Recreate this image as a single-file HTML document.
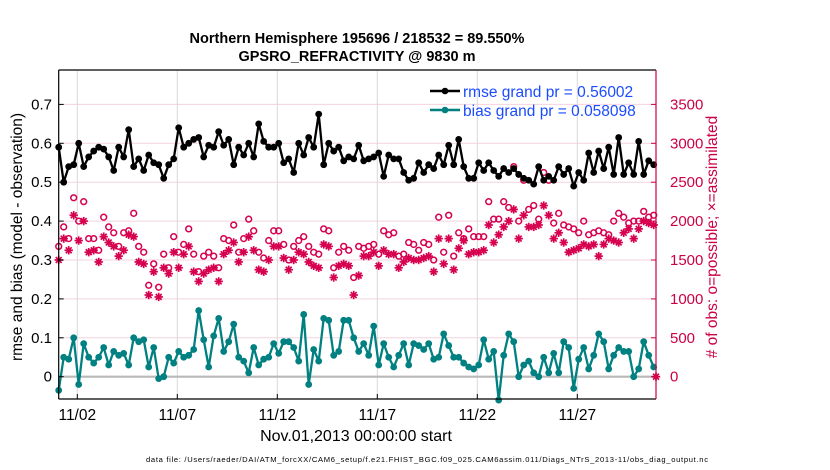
<!DOCTYPE html>
<html><head><meta charset="utf-8"><style>
html,body{margin:0;padding:0;background:#fff;}
svg{display:block;font-family:"Liberation Sans",Arial,sans-serif;}
</style></head><body>
<svg id="chart" width="830" height="470" viewBox="0 0 830 470">
<text x="357" y="43" text-anchor="middle" font-size="14.5" font-weight="bold">Northern Hemisphere 195696 / 218532 = 89.550%</text>
<text x="357" y="61" text-anchor="middle" font-size="14.5" font-weight="bold">GPSRO_REFRACTIVITY @ 9830 m</text>
<g id="grid"></g>
<g id="marks"></g>
<g id="axes"></g>
<text transform="translate(22,237) rotate(-90)" text-anchor="middle" font-size="15.5">rmse and bias (model - observation)</text>
<text transform="translate(717,237) rotate(-90)" text-anchor="middle" font-size="15.5" fill="#cc0044"># of obs: o=possible; ×=assimilated</text>
<text x="356" y="441" text-anchor="middle" font-size="16">Nov.01,2013 00:00:00 start</text>
<text x="427" y="462" text-anchor="middle" font-size="7.6" textLength="562">data file: /Users/raeder/DAI/ATM_forcXX/CAM6_setup/f.e21.FHIST_BGC.f09_025.CAM6assim.011/Diags_NTrS_2013-11/obs_diag_output.nc</text>
<g>
<line x1="430" y1="91" x2="460" y2="91" stroke="#000" stroke-width="2.5"/>
<circle cx="445" cy="91" r="3.3" fill="#000"/>
<text x="463" y="97" font-size="15.5" fill="#1a4cff">rmse grand pr = 0.56002</text>
<line x1="430" y1="110" x2="460" y2="110" stroke="#008080" stroke-width="2.5"/>
<circle cx="445" cy="110" r="3.3" fill="#008080"/>
<text x="463" y="116" font-size="15.5" fill="#1a4cff">bias grand pr = 0.058098</text>
</g>
</svg>
<script>
const rmse=[0.59,0.50,0.54,0.545,0.60,0.54,0.565,0.58,0.59,0.585,0.565,0.53,0.59,0.565,0.635,0.54,0.56,0.53,0.57,0.55,0.545,0.51,0.545,0.56,0.64,0.59,0.60,0.61,0.615,0.565,0.595,0.59,0.63,0.595,0.61,0.545,0.59,0.57,0.60,0.565,0.65,0.605,0.59,0.59,0.60,0.55,0.56,0.525,0.60,0.57,0.615,0.59,0.675,0.545,0.60,0.58,0.59,0.555,0.565,0.56,0.595,
0.555,0.56,0.565,0.575,0.515,0.57,0.56,0.56,0.525,0.505,0.51,0.55,0.525,0.545,0.535,0.57,0.545,0.595,0.545,0.61,0.54,0.51,0.51,0.55,0.53,0.55,0.53,0.515,0.535,0.525,0.535,0.52,0.51,0.505,0.495,0.54,0.505,0.515,0.505,0.54,0.52,0.535,0.49,0.525,0.505,0.575,0.525,0.58,0.535,0.59,0.52,0.615,0.52,0.55,0.52,0.605,0.52,0.555,0.545];
const bias=[-0.035,0.05,0.045,0.10,-0.02,0.085,0.05,0.035,0.05,0.075,0.03,0.065,0.055,0.06,0.03,0.10,0.09,0.095,0.025,0.075,-0.005,0.0,0.05,0.035,0.065,0.05,0.055,0.07,0.17,0.095,0.025,0.105,0.15,0.065,0.09,0.135,0.05,0.04,0.01,0.075,0.03,0.045,0.05,0.085,0.06,0.09,0.09,0.075,0.04,0.16,-0.02,0.07,0.04,0.15,0.145,0.055,0.065,0.145,0.145,0.10,0.065,
0.085,0.055,0.13,0.03,0.085,0.05,0.025,0.055,0.085,0.03,0.085,0.08,0.07,0.085,0.045,0.05,0.11,0.08,0.05,0.05,0.035,0.025,0.02,0.03,0.095,0.045,0.065,-0.06,0.055,0.11,0.09,0.0,0.03,0.04,0.01,0.0,0.05,0.01,0.06,0.01,0.09,0.075,-0.03,0.045,0.075,0.02,0.055,0.11,0.09,0.02,0.055,0.075,0.065,0.065,0.0,0.02,0.09,0.055,0.025];
const nPossible=[1675,1925,1775,2300,2000,2250,1775,1775,1625,2050,1925,1850,1675,1850,1875,2100,1675,1600,1175,1450,1150,1575,1400,1800,1600,1700,1900,1575,1350,1550,1600,1550,1400,1775,1750,1950,1600,1775,2025,1875,1600,1525,1750,1875,1875,1700,1500,1675,1750,1800,1675,1600,1575,1900,1875,1400,1600,1675,1625,1275,1675,
1650,1675,1700,1575,1875,1825,1850,1550,1575,1725,1700,1625,1725,1700,1500,2050,1600,2075,1550,1850,1775,1900,1800,1800,1800,2250,2025,2025,2250,2175,2700,2000,2525,2150,2200,2025,2625,2525,1975,2100,1950,1925,1900,1850,2000,1825,1850,1875,1850,1825,2000,2100,2050,1975,2000,2000,2125,2050,2075];
const nAssim=[1500,1775,1625,2075,1750,2000,1600,1625,1475,1800,1725,1675,1550,1625,1825,1800,1475,1450,1050,1350,1025,1400,1325,1600,1400,1575,1675,1350,1225,1325,1375,1400,1225,1575,1625,1725,1475,1600,1800,1625,1375,1350,1500,1675,1675,1525,1375,1500,1600,1575,1475,1425,1400,1700,1675,1275,1425,1450,1425,1050,1300,
1550,1550,1600,1425,1625,1575,1575,1400,1475,1525,1500,1500,1525,1550,1350,1775,1450,1775,1375,1650,1750,1575,1600,1600,1625,1950,1725,1825,1925,2000,2150,1775,2075,1925,1925,1950,2200,2075,1775,1850,1725,1600,1625,1650,1700,1675,1700,1550,1700,1775,1750,1725,1850,1900,1775,1900,2000,1975,1950];
const leftTicks=[0,0.1,0.2,0.3,0.4,0.5,0.6,0.7];
const leftTickLabels=["0","0.1","0.2","0.3","0.4","0.5","0.6","0.7"];
const rightTicks=[0,500,1000,1500,2000,2500,3000,3500];
const xTickDays=[2,7,12,17,22,27];
const xTickLabels=["11/02","11/07","11/12","11/17","11/22","11/27"];
const startDay=1.07, stepDay=0.25;

const NS="http://www.w3.org/2000/svg";
const L=58.7,R=656,T=70,B=399;
function xDay(d){return 37.3+20*d;}
function yL(v){return 376.7-v*389;}
function yR(c){return 376.7-c/500*38.9;}
function mk(tag,attrs,parent){const e=document.createElementNS(NS,tag);for(const k in attrs)e.setAttribute(k,attrs[k]);parent.appendChild(e);return e;}
const grid=document.getElementById('grid'),marks=document.getElementById('marks'),axes=document.getElementById('axes');
leftTicks.forEach((v,i)=>{
  if(v!==0){const g=mk('line',{x1:L,x2:R,y1:yL(v),y2:yL(v),stroke:'#f4d3df','stroke-width':1},grid);
  
  }
  const t=mk('text',{x:52,y:yL(v)+5,'text-anchor':'end','font-size':15},axes);t.textContent=leftTickLabels[i];
  
  
  mk('line',{x1:L,x2:L+5,y1:yL(v),y2:yL(v),stroke:'#000'},axes);
});
rightTicks.forEach(c=>{
  const t=mk('text',{x:670,y:yR(c)+5,'font-size':15,fill:'#cc0044'},axes);t.textContent=String(c);
  
  
  mk('line',{x1:R-5,x2:R,y1:yR(c),y2:yR(c),stroke:'#cc0044'},axes);
});
xTickDays.forEach((d,i)=>{
  const g=mk('line',{x1:xDay(d),x2:xDay(d),y1:T,y2:B,stroke:'#d8d8d8','stroke-width':1},grid);
  
  
  const t=mk('text',{x:xDay(d),y:420,'text-anchor':'middle','font-size':15.5},axes);t.textContent=xTickLabels[i];
  
  
  mk('line',{x1:xDay(d),x2:xDay(d),y1:B,y2:B-5,stroke:'#000'},axes);
});
const z=mk('line',{x1:L,x2:R,y1:yL(0),y2:yL(0),stroke:'#b8b8b8','stroke-width':2.2},grid);


const xi=i=>xDay(startDay+stepDay*i);
nPossible.forEach((c,i)=>{const e=mk('circle',{cx:xi(i),cy:yR(c),r:2.9,fill:'none',stroke:'#d6004f','stroke-width':1.5},marks);
  
  });
function star(x,y){const g=mk('g',{stroke:'#d6004f','stroke-width':1.7},marks);
  
  
  const r=4.2;mk('line',{x1:x-r,x2:x+r,y1:y,y2:y},g);mk('line',{x1:x,x2:x,y1:y-r,y2:y+r},g);
  mk('line',{x1:x-r*0.7,x2:x+r*0.7,y1:y-r*0.7,y2:y+r*0.7},g);mk('line',{x1:x-r*0.7,x2:x+r*0.7,y1:y+r*0.7,y2:y-r*0.7},g);}
nAssim.forEach((c,i)=>star(xi(i),yR(c)));
star(R,yR(0));
function series(vals,color,name){
  const p=mk('polyline',{points:vals.map((v,i)=>xi(i)+','+yL(v)).join(' '),fill:'none',stroke:color,'stroke-width':2.3,'stroke-linejoin':'round'},marks);
  
  
  vals.forEach((v,i)=>{const c=mk('circle',{cx:xi(i),cy:yL(v),r:3.4,fill:color},marks);
    
    });
}
series(bias,'#008080','bias');
series(rmse,'#000000','rmse');
mk('line',{x1:L,x2:L,y1:T,y2:B,stroke:'#000','stroke-width':1.2},axes);
mk('line',{x1:L,x2:R,y1:T,y2:T,stroke:'#000','stroke-width':1.2},axes);
mk('line',{x1:L,x2:R,y1:B,y2:B,stroke:'#000','stroke-width':1.2},axes);
mk('line',{x1:R,x2:R,y1:T,y2:B,stroke:'#cc0044','stroke-width':1.2},axes);
</script>
</body></html>
